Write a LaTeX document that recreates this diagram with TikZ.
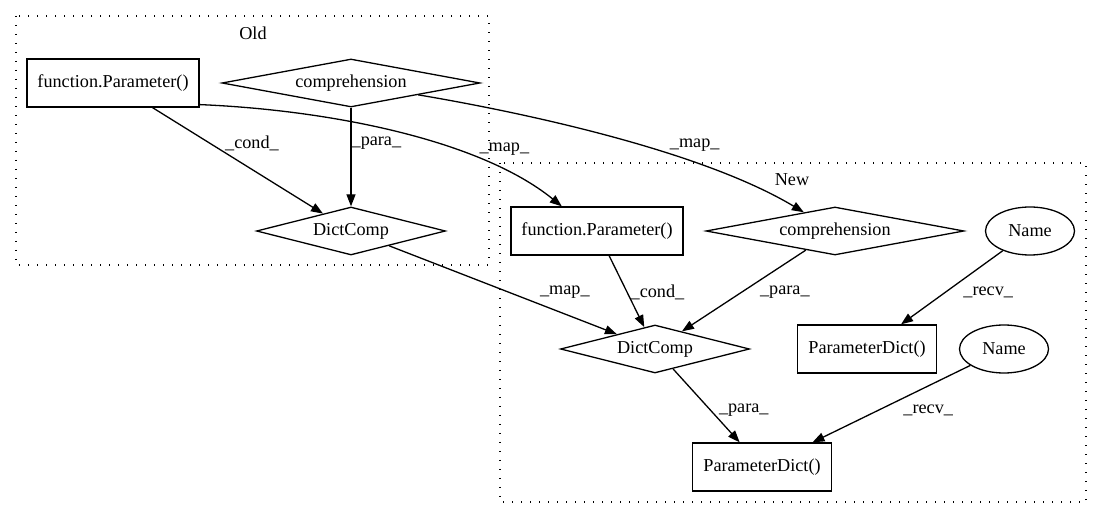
\documentclass[tikz,border=0pt]{standalone}
\usepackage{fontspec}
\setmainfont{Liberation Serif}
\usetikzlibrary{arrows.meta,shapes.geometric}

\begin{document}
\begin{tikzpicture}[x=1pt,y=-1pt,
    every node/.style={font=\fontsize{18.2}{22}\selectfont},
    box/.style={draw,line width=1.3pt,rectangle,minimum height=48pt,inner sep=0pt},
    diam/.style={draw,line width=1.3pt,diamond,aspect=5.4,minimum height=48pt,inner sep=0pt},
    oval/.style={draw,line width=1.3pt,ellipse,minimum width=89pt,minimum height=48pt,inner sep=0pt},
    flow/.style={line width=1.3pt,-{Triangle[length=12pt,width=9pt]}},
    elab/.style={inner sep=0pt,anchor=west},
    cluster/.style={line width=1.3pt,dash pattern=on 1.3pt off 7.7pt}]

    \useasboundingbox (0,0) rectangle (1101,518);

    \draw[cluster] (16,16) rectangle (489,265);
    \node (old) at (253,33) {Old};
    \draw[cluster] (500,163) rectangle (1086,502);
    \node (new) at (792,180) {New};

    \node[box,minimum width=172pt] (ofp) at (113,83) {function.Parameter()};
    \node[diam,minimum width=258pt] (ocomp) at (351,83) {comprehension};
    \node[diam,minimum width=189pt] (odc) at (351,231) {DictComp};

    \node[box,minimum width=172pt] (nfp) at (597,231) {function.Parameter()};
    \node[diam,minimum width=258pt] (ncomp) at (835,231) {comprehension};
    \node[oval] (nname1) at (1030,231) {Name};
    \node[diam,minimum width=189pt] (ndc) at (655,349) {DictComp};
    \node[box,minimum width=139pt] (npd1) at (867,349) {ParameterDict()};
    \node[oval] (nname2) at (1004,349) {Name};
    \node[box,minimum width=139pt] (npd2) at (762,467) {ParameterDict()};

    \draw[flow] (ofp) -- node[elab,pos=.34,xshift=14pt] {\_cond\_} (odc);
    \draw[flow] (ocomp) -- node[elab,pos=.36] {\_para\_} (odc);

    \draw[flow] (ofp.-14) .. controls (330,110) and (480,140) .. node[elab,pos=.72,yshift=10pt] {\_map\_} (nfp.145);
    \draw[flow] (ocomp.-10) .. controls (520,112) and (700,150) .. node[elab,pos=.64,yshift=9pt] {\_map\_} (ncomp.149);
    \draw[flow] (odc) -- node[elab,pos=.66,yshift=12pt] {\_map\_} (ndc);

    \draw[flow] (nfp) -- node[elab,pos=.51,xshift=3pt] {\_cond\_} (ndc);
    \draw[flow] (ncomp) -- node[elab,pos=.52,xshift=18pt] {\_para\_} (ndc);
    \draw[flow] (nname1) -- node[elab,pos=.56,xshift=17pt] {\_recv\_} (npd1);
    \draw[flow] (ndc) -- node[elab,pos=.56,xshift=8pt] {\_para\_} (npd2);
    \draw[flow] (nname2) -- node[elab,pos=.58,xshift=24pt] {\_recv\_} (npd2);

\end{tikzpicture}
\end{document}
